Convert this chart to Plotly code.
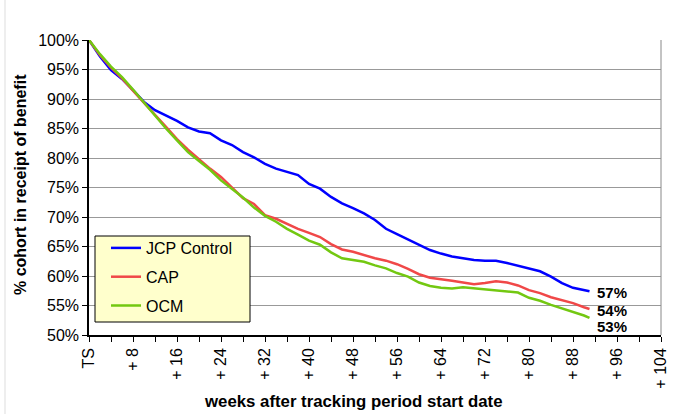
import plotly.graph_objects as go

weeks = [0, 2, 4, 6, 8, 10, 12, 14, 16, 18, 20, 22, 24, 26, 28, 30, 32, 34, 36, 38,
         40, 42, 44, 46, 48, 50, 52, 54, 56, 58, 60, 62, 64, 66, 68, 70, 72, 74, 76,
         78, 80, 82, 84, 86, 88, 90, 91]

jcp_control = [100, 97.2, 94.9, 93.4, 91.5, 89.5, 88.1, 87.2, 86.3, 85.2, 84.5, 84.2,
               83.0, 82.2, 81.0, 80.1, 79.0, 78.2, 77.6, 77.1, 75.6, 74.8, 73.4, 72.3,
               71.5, 70.6, 69.5, 68.0, 67.1, 66.2, 65.4, 64.4, 63.8, 63.3, 63.0, 62.7,
               62.6, 62.6, 62.2, 61.7, 61.3, 60.8, 59.9, 58.8, 58.0, 57.6, 57.4]

cap = [100, 97.4, 95.3, 93.5, 91.4, 89.3, 87.3, 85.3, 83.2, 81.4, 79.8, 78.2, 76.8,
       75.0, 73.2, 72.2, 70.3, 69.7, 68.8, 68.0, 67.3, 66.6, 65.4, 64.5, 64.1, 63.5,
       63.0, 62.6, 62.0, 61.2, 60.3, 59.7, 59.5, 59.2, 58.9, 58.6, 58.8, 59.1, 58.9,
       58.4, 57.6, 57.1, 56.4, 55.9, 55.4, 54.7, 54.4]

ocm = [100, 97.6, 95.5, 93.7, 91.6, 89.4, 87.2, 85.0, 83.0, 81.0, 79.5, 78.0, 76.2,
       74.8, 73.3, 71.6, 70.2, 69.2, 68.0, 67.0, 66.0, 65.3, 64.0, 63.0, 62.7, 62.4,
       61.8, 61.3, 60.5, 59.9, 58.9, 58.3, 58.0, 57.9, 58.1, 57.9, 57.7, 57.5, 57.4,
       57.2, 56.3, 55.8, 55.1, 54.5, 54.0, 53.3, 52.9]

series_names = ["JCP Control", "CAP", "OCM"]
series_colors = ["#0000FF", "#F04848", "#73C811"]
end_labels = ["57%", "54%", "53%"]
end_label_shift = [-1, -1, -9]

x_tick_vals = list(range(0, 105, 8))
x_tick_text = ["TS"] + ["+ %d" % v for v in x_tick_vals[1:]]
y_tick_vals = list(range(50, 101, 5))
y_tick_text = ["%d%%" % v for v in y_tick_vals]

x_title = "weeks after tracking period start date"
y_title = "% cohort in receipt of benefit"

font_family = "Liberation Sans, Arial, sans-serif"

W, H = 673, 414
L, R, T, B = 89, 12, 40, 79
PW, PH = W - L - R, H - T - B


def px(x):
    return (x - L) / PW


def py(y):
    return (H - B - y) / PH


fig = go.Figure()
for i, (name, vals) in enumerate(zip(series_names, [jcp_control, cap, ocm])):
    fig.add_trace(go.Scatter(
        x=weeks, y=vals, mode="lines", name=name,
        legendgroup=name,
        line=dict(color=series_colors[i], width=2.5),
    ))
    fig.add_annotation(
        x=weeks[-1], y=vals[-1], text="<b>%s</b>" % end_labels[i],
        showarrow=False, xanchor="left", yanchor="middle",
        xshift=5, yshift=end_label_shift[i],
        font=dict(family=font_family, size=15, color="black"),
    )

# axis titles
fig.add_annotation(xref="paper", yref="paper", x=px(353), y=py(401),
                   text="<b>%s</b>" % x_title, showarrow=False,
                   xanchor="center", yanchor="middle",
                   font=dict(family=font_family, size=16.8, color="black"))
fig.add_annotation(xref="paper", yref="paper", x=px(20), y=py(185),
                   text="<b>%s</b>" % y_title, showarrow=False, textangle=-90,
                   xanchor="center", yanchor="middle",
                   font=dict(family=font_family, size=16, color="black"))

# legend background box
fig.add_shape(type="rect", xref="paper", yref="paper",
              x0=px(95), x1=px(250), y0=py(322), y1=py(236),
              fillcolor="#FFFFCC", line=dict(color="black", width=1), layer="above")
# right plot border
fig.add_shape(type="line", xref="paper", yref="paper", x0=1, x1=1, y0=0, y1=1,
              line=dict(color="#888888", width=1))
# faint frame line at the left edge of the picture
fig.add_shape(type="line", xref="paper", yref="paper", x0=px(5), x1=px(5),
              y0=py(414), y1=py(0), line=dict(color="#DDDDDD", width=1))

fig.update_layout(
    width=W, height=H,
    margin=dict(l=L, r=R, t=T, b=B),
    paper_bgcolor="white", plot_bgcolor="white",
    font=dict(family=font_family, size=16, color="black"),
    legend=dict(
        x=px(106), y=py(231), xanchor="left", yanchor="top",
        bgcolor="rgba(0,0,0,0)", borderwidth=0,
        font=dict(family=font_family, size=16, color="black"),
        traceorder="grouped", tracegroupgap=5,
    ),
    xaxis=dict(
        range=[0, 104], tickvals=x_tick_vals, ticktext=x_tick_text,
        tickangle=-90, ticks="outside", ticklen=5, tickcolor="black",
        showline=True, linecolor="black", linewidth=1.5,
        showgrid=False, zeroline=False, automargin=False,
        minor=dict(dtick=4, tick0=0, ticks="outside", ticklen=5, tickcolor="black", showgrid=False),
        tickfont=dict(size=16),
    ),
    yaxis=dict(
        range=[50, 100], tickvals=y_tick_vals, ticktext=y_tick_text,
        ticks="outside", ticklen=5, tickcolor="black",
        showline=True, linecolor="black", linewidth=1.5,
        showgrid=True, gridcolor="#999999", gridwidth=1, zeroline=False, automargin=False,
        tickfont=dict(size=16),
    ),
)

fig.write_html("out.html", config={"displayModeBar": False},
               post_script="document.body.style.margin='0';")
